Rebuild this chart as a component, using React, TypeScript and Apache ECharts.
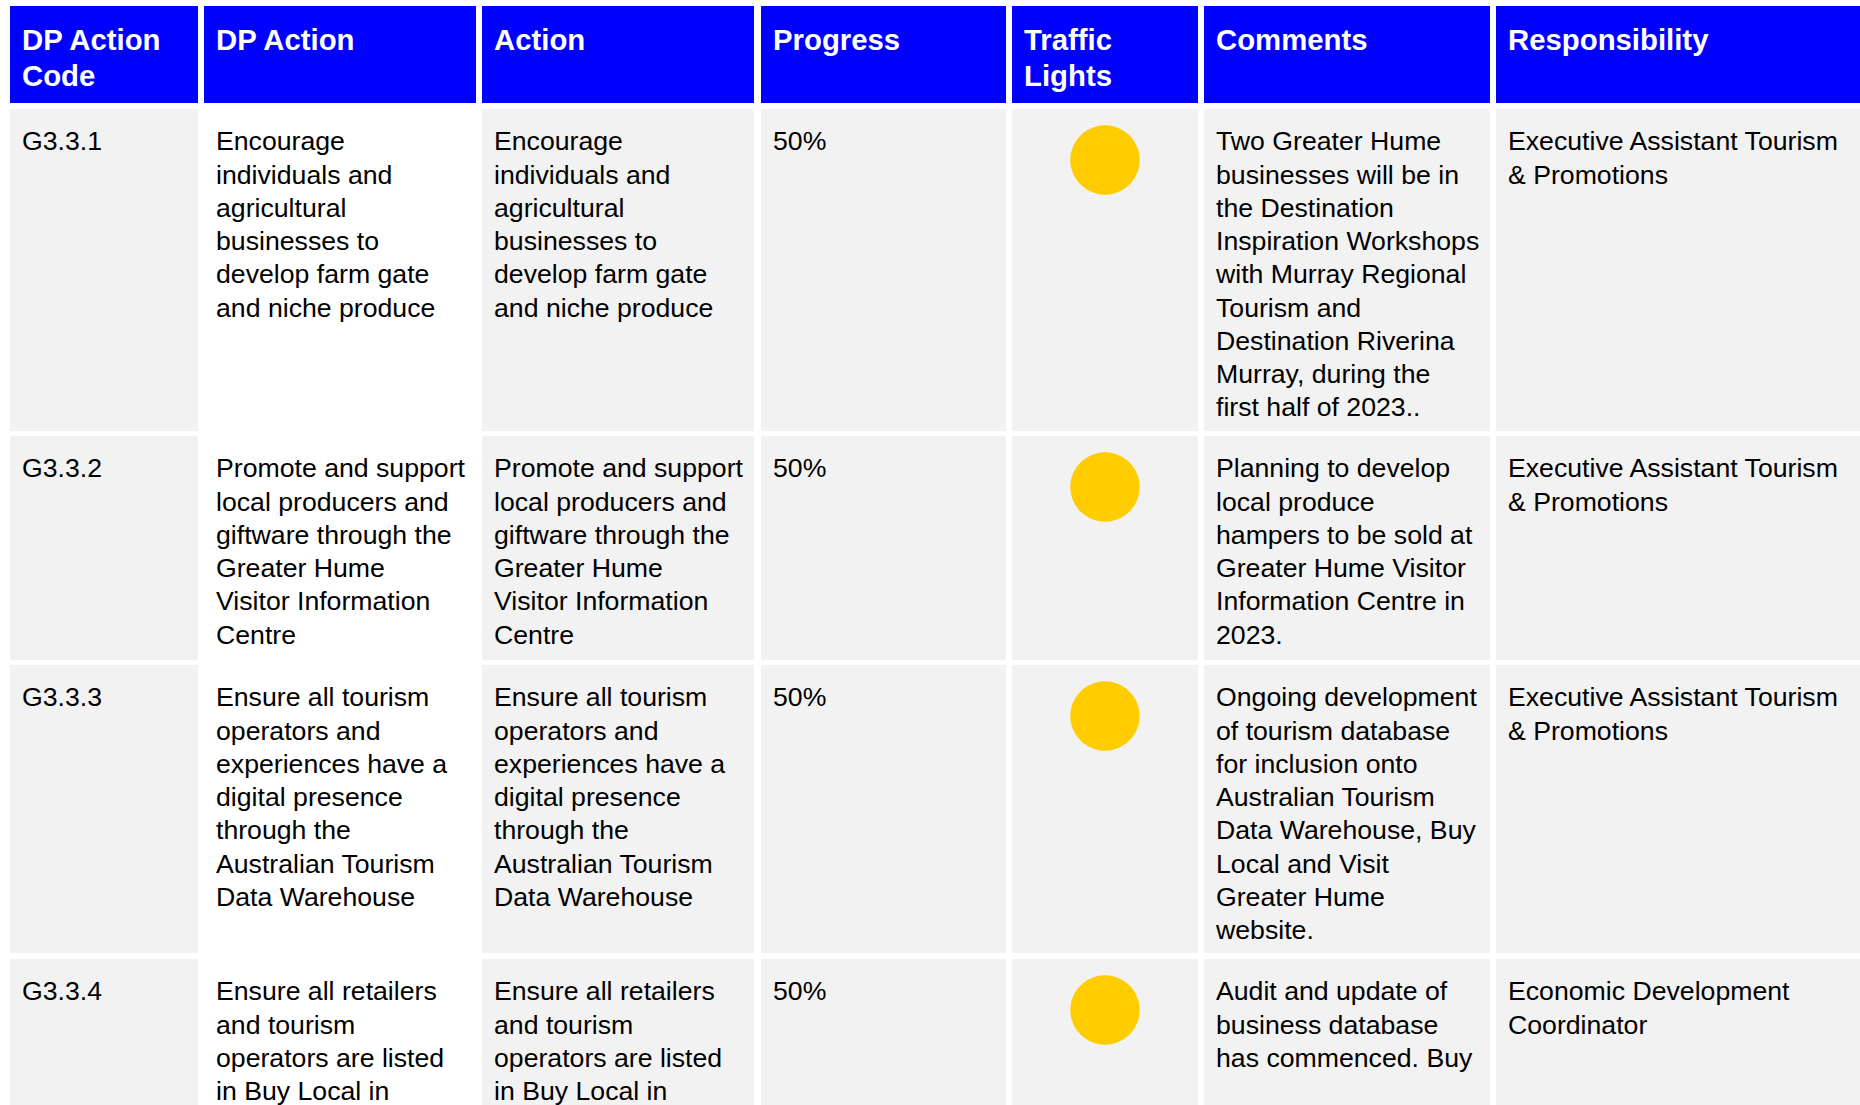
import { useEffect, useRef } from "react";
import * as echarts from "echarts";

// ---------- data ----------
const headers = [
  "DP Action\nCode",
  "DP Action",
  "Action",
  "Progress",
  "Traffic\nLights",
  "Comments",
  "Responsibility",
];

const codes = ["G3.3.1", "G3.3.2", "G3.3.3", "G3.3.4"];

const dpActions = [
  "Encourage\nindividuals and\nagricultural\nbusinesses to\ndevelop farm gate\nand niche produce",
  "Promote and support\nlocal producers and\ngiftware through the\nGreater Hume\nVisitor Information\nCentre",
  "Ensure all tourism\noperators and\nexperiences have a\ndigital presence\nthrough the\nAustralian Tourism\nData Warehouse",
  "Ensure all retailers\nand tourism\noperators are listed\nin Buy Local in",
];

const actions = [
  "Encourage\nindividuals and\nagricultural\nbusinesses to\ndevelop farm gate\nand niche produce",
  "Promote and support\nlocal producers and\ngiftware through the\nGreater Hume\nVisitor Information\nCentre",
  "Ensure all tourism\noperators and\nexperiences have a\ndigital presence\nthrough the\nAustralian Tourism\nData Warehouse",
  "Ensure all retailers\nand tourism\noperators are listed\nin Buy Local in",
];

const progress = ["50%", "50%", "50%", "50%"];

const trafficLights = ["amber", "amber", "amber", "amber"];

const comments = [
  "Two Greater Hume\nbusinesses will be in\nthe Destination\nInspiration Workshops\nwith Murray Regional\nTourism and\nDestination Riverina\nMurray, during the\nfirst half of 2023..",
  "Planning to develop\nlocal produce\nhampers to be sold at\nGreater Hume Visitor\nInformation Centre in\n2023.",
  "Ongoing development\nof tourism database\nfor inclusion onto\nAustralian Tourism\nData Warehouse, Buy\nLocal and Visit\nGreater Hume\nwebsite.",
  "Audit and update of\nbusiness database\nhas commenced. Buy",
];

const responsibility = [
  "Executive Assistant Tourism\n& Promotions",
  "Executive Assistant Tourism\n& Promotions",
  "Executive Assistant Tourism\n& Promotions",
  "Economic Development\nCoordinator",
];

// ---------- layout / style ----------
const LIGHT_COLORS: Record<string, string> = {
  amber: "#FFCC00",
  green: "#00B050",
  red: "#FF0000",
};
const HEADER_BG = "#0000FF";
const CELL_BG = "#F2F2F2";
const PLAIN_BG = "#FFFFFF";
const TEXT_COLOR = "#000000";
const FONT = '"Liberation Sans", Arial, Helvetica, sans-serif';

const colX = [10, 204, 482, 761, 1012, 1204, 1496];
const colW = [188, 272, 272, 245, 186, 286, 380];
const colBg = [CELL_BG, PLAIN_BG, CELL_BG, CELL_BG, CELL_BG, CELL_BG, CELL_BG];
const headerTop = 6;
const headerH = 97;
const rowTop = [109, 436, 665, 959];
const rowH = [322, 224, 288, 220];

const PAD = 12;
const HEAD_FS = 29.33;
const HEAD_BASE = 43.3;
const HEAD_LH = 36.7;
const BODY_FS = 26.67;
const BODY_BASE = 41.5;
const BODY_LH = 33.25;
const CENTRAL = 0.3465; // baseline offset from central baseline (em)
const LIGHT_R = 34.7;
const LIGHT_DY = 51;

function lines(
  str: string,
  x: number,
  top: number,
  base: number,
  lh: number,
  fs: number,
  weight: string,
  fill: string
) {
  return str.split("\n").map((t, i) => ({
    type: "text",
    x,
    y: top + base + i * lh - CENTRAL * fs,
    silent: true,
    style: {
      text: t,
      fill,
      fontSize: fs,
      fontWeight: weight,
      fontFamily: FONT,
      align: "left",
      verticalAlign: "middle",
    },
  }));
}

function buildGraphic() {
  const rects: any[] = [];
  const texts: any[] = [];

  headers.forEach((h, c) => {
    rects.push({
      type: "rect",
      shape: { x: colX[c], y: headerTop, width: colW[c], height: headerH },
      style: { fill: HEADER_BG },
      silent: true,
    });
    texts.push(...lines(h, colX[c] + PAD, headerTop, HEAD_BASE, HEAD_LH, HEAD_FS, "bold", "#FFFFFF"));
  });

  codes.forEach((code, r) => {
    const cells = [code, dpActions[r], actions[r], progress[r], "", comments[r], responsibility[r]];
    cells.forEach((txt, c) => {
      rects.push({
        type: "rect",
        shape: { x: colX[c], y: rowTop[r], width: colW[c], height: rowH[r] },
        style: { fill: colBg[c] },
        silent: true,
      });
      if (txt) {
        texts.push(...lines(txt, colX[c] + PAD, rowTop[r], BODY_BASE, BODY_LH, BODY_FS, "normal", TEXT_COLOR));
      }
    });
    texts.push({
      type: "circle",
      shape: { cx: colX[4] + colW[4] / 2, cy: rowTop[r] + LIGHT_DY, r: LIGHT_R },
      style: { fill: LIGHT_COLORS[trafficLights[r]] },
      silent: true,
    });
  });

  return [...rects, ...texts];
}

export default function App() {
  const ref = useRef<HTMLDivElement>(null);
  useEffect(() => {
    if (!ref.current) return;
    const chart = echarts.init(ref.current, null, { renderer: "svg" });
    chart.setOption({
      animation: false,
      backgroundColor: "#FFFFFF",
      graphic: buildGraphic(),
    });
    return () => chart.dispose();
  }, []);
  return (
    <div
      ref={ref}
      style={{
        position: "fixed",
        left: 0,
        top: 0,
        width: 1860,
        height: 1105,
        background: "#FFFFFF",
      }}
    />
  );
}
